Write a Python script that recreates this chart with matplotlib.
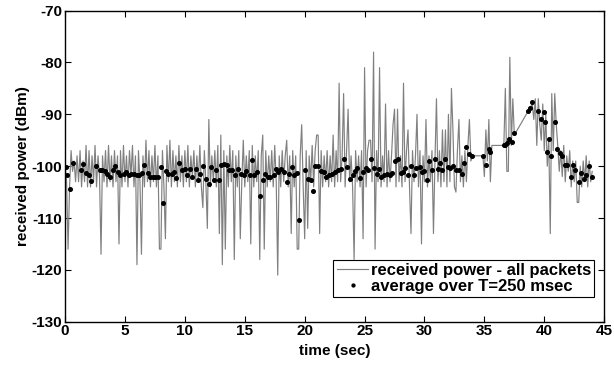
import numpy as np
import matplotlib
matplotlib.use("Agg")
import matplotlib.pyplot as plt

# Promedios cada 250 ms (tiempo en s, potencia en dBm)
avg_t = [0.05, 0.2, 0.4, 0.7, 1.3, 1.5, 1.75, 2.0, 2.2, 2.6, 2.9, 3.1, 3.3, 3.5, 3.75,
         4.0, 4.2, 4.4, 4.6, 4.9, 5.1, 5.3, 5.5, 5.75, 6.0, 6.2, 6.4, 6.6, 6.9,
         7.1, 7.3, 7.5, 7.75, 8.0, 8.2, 8.4, 8.6, 8.9, 9.1, 9.3, 9.5, 9.75,
         10.0, 10.2, 10.4, 10.6, 10.9, 11.1, 11.3, 11.5, 11.75, 12.0, 12.2, 12.4,
         12.6, 12.85, 13.0, 13.25, 13.5, 13.7, 13.9, 14.2, 14.45,
         14.7, 14.9, 15.1, 15.4, 15.6, 15.8, 16.0, 16.25, 16.5, 16.7, 16.9, 17.1,
         17.4, 17.6, 17.8, 18.0, 18.25, 18.5, 18.7, 18.9, 19.1, 19.4, 19.55,
         20.0, 20.25, 20.5, 20.7, 20.9, 21.1, 21.4, 21.6, 21.8,
         22.05, 22.3, 22.55, 22.8, 23.0, 23.3, 23.5, 23.75, 24.0, 24.2, 24.4,
         24.6, 24.9, 25.1, 25.3, 25.5, 25.75, 26.0, 26.2, 26.4, 26.6, 26.9,
         27.1, 27.3, 27.5, 27.75, 28.0, 28.2, 28.4, 28.6, 28.9,
         29.1, 29.3, 29.6, 29.8, 30.0, 30.2, 30.4, 30.6, 30.9, 31.1, 31.3, 31.5,
         31.75, 32.0, 32.1, 32.4, 32.6, 32.9, 33.1, 33.3, 33.5, 33.75, 34.0,
         34.9, 35.1, 35.4, 35.5, 36.6,
         36.7, 36.86, 37.08, 37.3, 37.5, 38.6, 38.8, 39.0, 39.5, 39.75, 40.0,
         40.1, 40.2, 40.4, 40.6, 40.9, 41.1, 41.3, 41.5, 41.75, 41.9, 42.2,
         42.4, 42.6, 42.9, 43.1, 43.3, 43.5, 43.75, 44.0]
avg_db = [-100.2, -101.8, -104.4, -99.3, -100.8, -99.5, -101.3, -101.7, -102.9, -99.9,
          -100.7, -100.8, -100.9, -101.5, -102.0, -100.8, -100.0, -101.2, -101.8,
          -101.5, -101.2, -101.8, -101.6, -101.6, -101.8, -101.8, -101.3, -99.8, -101.3,
          -102.0, -102.0, -102.0, -102.0, -100.2, -107.1, -100.9, -101.6, -101.6,
          -101.1, -102.2, -99.4, -100.8,
          -100.6, -101.7, -100.6, -102.0, -100.6, -102.6, -101.5, -99.9, -102.4,
          -103.5, -100.2, -102.6, -100.8, -102.6, -99.7, -99.5, -99.7, -100.7,
          -100.8, -101.8, -100.5,
          -101.5, -101.8, -100.9, -101.8, -98.9, -101.8, -101.2, -105.7, -102.7,
          -101.6, -102.0, -102.1, -101.8, -100.5, -101.2, -100.5, -101.1, -103.0,
          -101.6, -100.2, -101.8, -101.3, -110.3,
          -100.8, -102.4, -102.6, -104.7, -99.9, -100.0, -100.9, -101.1, -102.0,
          -101.8, -101.5, -101.1, -100.8, -100.5, -98.7, -100.2, -102.5, -101.8,
          -100.9, -100.3, -102.2, -101.1, -100.3, -100.8, -98.7, -100.3, -101.6,
          -100.6, -102.0, -101.8, -101.6, -101.8, -101.3, -99.0, -98.7, -101.3,
          -101.2, -100.3, -101.8, -99.9,
          -101.8, -100.3, -100.2, -101.1, -100.9, -102.7, -99.0, -100.8, -98.6,
          -100.5, -99.4, -100.8, -98.7, -100.2, -100.3, -100.0, -100.7, -100.7,
          -101.6, -99.4, -96.3, -97.6, -98.0,
          -98.0, -99.8, -96.6, -97.3, -96.0,
          -95.9, -95.6, -94.8, -95.3, -93.6, -89.4, -88.8, -87.7, -89.3, -90.9,
          -89.6, -91.5, -97.3, -94.8, -98.0, -91.5, -96.7, -97.5, -98.0, -99.8,
          -99.8, -102.1, -99.7, -100.8, -103.0, -101.3, -102.4, -101.7, -100.0, -102.0]

# Potencia recibida de todos los paquetes, 8 muestras por segundo (0 a 34 s)
raw_00_10 = [-100, -103, -116, -104, -97, -101, -99, -103,
             -98, -103, -97, -104, -99, -103, -96, -104,
             -97, -104, -98, -103, -96, -104, -98, -102,
             -117, -98, -103, -97, -104, -96, -103, -98,
             -104, -97, -103, -98, -115, -97, -104, -96,
             -103, -98, -104, -97, -102, -96, -104, -98,
             -119, -97, -103, -117, -98, -104, -95, -103,
             -97, -104, -98, -103, -96, -104, -98, -116,
             -116, -97, -104, -114, -96, -103, -95, -104,
             -97, -103, -98, -104, -96, -103, -98, -104]
raw_10_20 = [-97, -103, -96, -104, -98, -102, -97, -104,
             -98, -103, -96, -104, -108, -97, -103, -112,
             -91, -104, -98, -103, -97, -104, -96, -113,
             -94, -119, -97, -116, -98, -104, -96, -103,
             -97, -118, -98, -104, -97, -114, -103, -95,
             -104, -98, -103, -97, -115, -96, -104, -98,
             -103, -97, -118, -98, -94, -116, -97, -104,
             -98, -103, -97, -104, -96, -103, -121, -98,
             -104, -97, -103, -98, -95, -104, -98, -113,
             -97, -104, -98, -116, -116, -98, -92, -104]
raw_20_30 = [-114, -97, -112, -98, -103, -96, -104, -97,
             -94, -94, -113, -97, -104, -98, -103, -97,
             -104, -98, -103, -94, -104, -97, -103, -84,
             -103, -98, -86, -104, -97, -89, -103, -98,
             -104, -118, -97, -103, -98, -104, -97, -114,
             -81, -104, -97, -95, -95, -103, -78, -116,
             -97, -103, -81, -104, -98, -103, -88, -104,
             -97, -103, -98, -92, -89, -104, -89, -103,
             -98, -104, -84, -103, -97, -93, -104, -113,
             -97, -103, -98, -90, -104, -97, -115, -98]
raw_30_34 = [-103, -91, -104, -98, -103, -97, -113, -99,
             -87, -103, -97, -104, -93, -103, -93, -104,
             -90, -103, -85, -93, -104, -105, -97, -91,
             -103, -98, -104, -97, -103, -96, -91, -99,
             -98]
# Tramos posteriores (hay huecos entre paquetes)
raw_35 = [-98, -102, -93, -99, -91, -103, -96]
raw_37 = [-96, -85, -101, -101, -79, -96, -87, -94]
raw_39_44 = [-88, -91, -87, -96, -87, -92, -95, -88,
             -97, -90, -100, -95, -113, -86, -97, -86,
             -92, -96, -101, -97, -102, -96, -103, -98,
             -101, -97, -104, -99, -103, -99, -107, -107,
             -100, -104, -99, -103, -98, -104, -99, -103, -101]

# Tiempos de cada tramo
raw_y = raw_00_10 + raw_10_20 + raw_20_30 + raw_30_34 + raw_35 + raw_37 + raw_39_44
raw_x = np.concatenate([np.arange(len(raw_00_10 + raw_10_20 + raw_20_30 + raw_30_34)) * 0.125,
                        34.875 + np.arange(len(raw_35)) * 0.125,
                        36.625 + np.arange(len(raw_37)) * 0.125,
                        39.0 + np.arange(len(raw_39_44)) * 0.125])

plt.rcParams['font.family'] = ['Liberation Sans', 'DejaVu Sans']
plt.rcParams['font.weight'] = 'bold'
plt.rcParams['axes.unicode_minus'] = False

fig = plt.figure(figsize=(6.14, 3.66), dpi=100)
ax = fig.add_axes([0.106, 0.121, 0.878, 0.850])

ax.plot(raw_x, raw_y, color='#808080', lw=0.85, label='received power - all packets')
ax.plot(avg_t, avg_db, 'o', color='black', ms=2.6, mec='black',
        label='average over T=250 msec')

ax.set_xlim(0, 45)
ax.set_ylim(-130, -70)
ax.set_xticks(np.arange(0, 46, 5))
ax.set_yticks(np.arange(-130, -69, 10))
ax.tick_params(direction='in', top=True, right=True, length=4, width=0.8,
               labelsize=11, pad=2)
for lab in ax.get_xticklabels() + ax.get_yticklabels():
    lab.set_fontweight('bold')
for s in ax.spines.values():
    s.set_linewidth(1.0)

ax.set_xlabel('time (sec)', fontsize=11, fontweight='bold', labelpad=4)
ax.set_ylabel('received power (dBm)', fontsize=11, fontweight='bold', labelpad=1)

leg = ax.legend(loc='lower right', bbox_to_anchor=(0.982, 0.078), fontsize=12,
                frameon=True, fancybox=False, edgecolor='black', framealpha=1,
                handlelength=1.9, handletextpad=0.15, borderpad=0.2,
                labelspacing=0.05, borderaxespad=0, markerscale=0.8)
leg.get_frame().set_linewidth(0.8)
for t in leg.get_texts():
    t.set_fontweight('bold')

fig.savefig('out.png', dpi=100)
